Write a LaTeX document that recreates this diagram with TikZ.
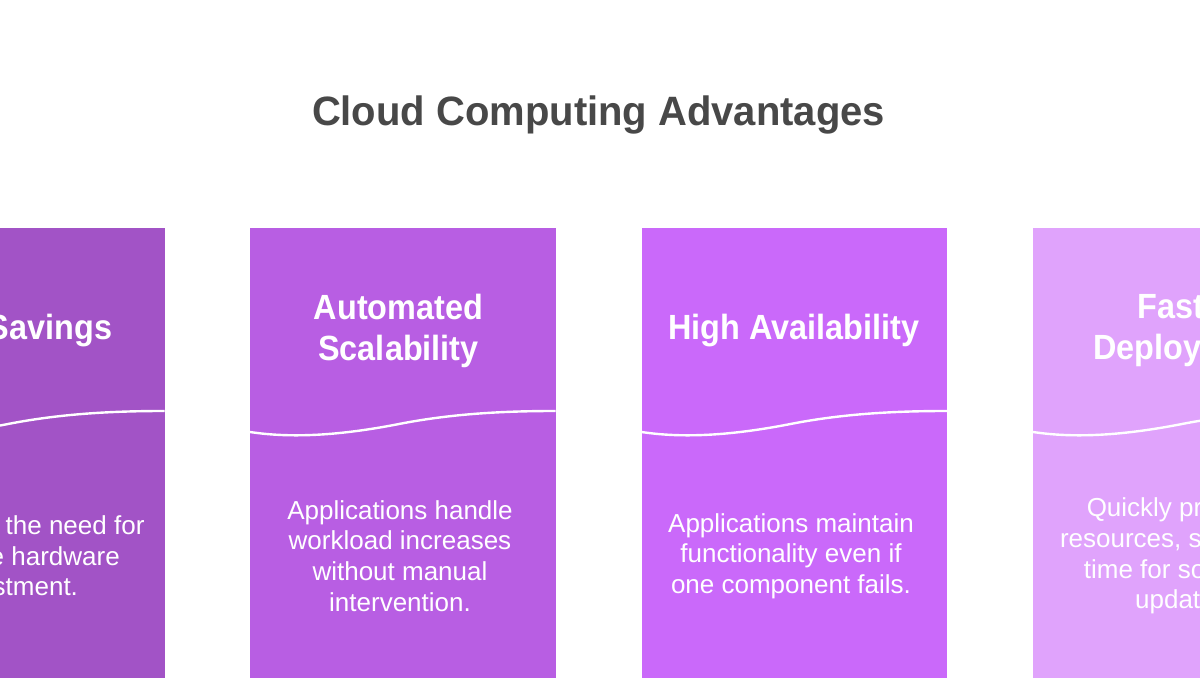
\documentclass[tikz,border=0pt]{standalone}
\usepackage{fontspec}
\setmainfont{Liberation Sans}
\newfontfamily\headfont[FakeStretch=0.926]{Liberation Sans}
\newfontfamily\mainhead[FakeStretch=0.975]{Liberation Sans}
\newfontfamily\bodyfont{Liberation Sans}
\definecolor{cardA}{HTML}{A253C6}
\definecolor{cardB}{HTML}{B85EE3}
\definecolor{cardC}{HTML}{CA69FA}
\definecolor{cardD}{HTML}{E0A3FC}
\definecolor{titlecol}{HTML}{484848}
\tikzset{
 px/.style={x=1pt,y=-1pt},
 cardtitle/.style={text=white,font=\headfont\bfseries\fontsize{35}{41}\selectfont,align=center,inner sep=0pt},
 cardbody/.style={text=white,font=\bodyfont\fontsize{26}{30.7}\selectfont,align=center,inner sep=0pt},
 wave/.style={draw=white,line width=2.4pt}
}
\newcommand{\cardat}[2]{%
 \fill[#2] (#1,228) rectangle ++(305.5,450);
 \begin{scope}[shift={(#1,0)}]
 \draw[wave] (0,432) .. controls (30,436.5) and (75,438.5) .. (149,424) .. controls (205,413) and (260,411) .. (305.5,411);
 \end{scope}
}
\begin{document}
\begin{tikzpicture}[px]
\useasboundingbox (0,0) rectangle (1200,700);
\fill[white] (0,0) rectangle (1200,700);
\begin{scope}
\clip (0,0) rectangle (1200,700);
\cardat{-141}{cardA}
\cardat{250}{cardB}
\cardat{641.5}{cardC}
\cardat{1033}{cardD}
\node[cardtitle] (t1) at (9.5,331) {Cost Savings};
\node[cardtitle] (t2) at (398.5,331) {Automated\\Scalability};
\node[cardtitle] (t3) at (794,331) {High Availability};
\node[cardtitle] (t4) at (1186,331) {Faster\\Deployment};
\node[cardbody] (b1) at (11.5,556) {Eliminates the need for\\expensive hardware\hspace*{16pt}\mbox{}\\investment.};
\node[cardbody] (b2) at (400,556) {Applications handle\\workload increases\\without manual\\intervention.};
\node[cardbody] (b3) at (791,556) {Applications maintain\\functionality even if\\one component fails.};
\node[cardbody] (b4) at (1185,556) {Quickly provision\\resources, shortening\\time for software\hspace*{10pt}\mbox{}\\updates.};
\end{scope}
\node[text=titlecol,font=\mainhead\bfseries\fontsize{41}{48}\selectfont,inner sep=0pt] (title) at (598.5,115) {Cloud Computing Advantages};
\end{tikzpicture}
\end{document}
